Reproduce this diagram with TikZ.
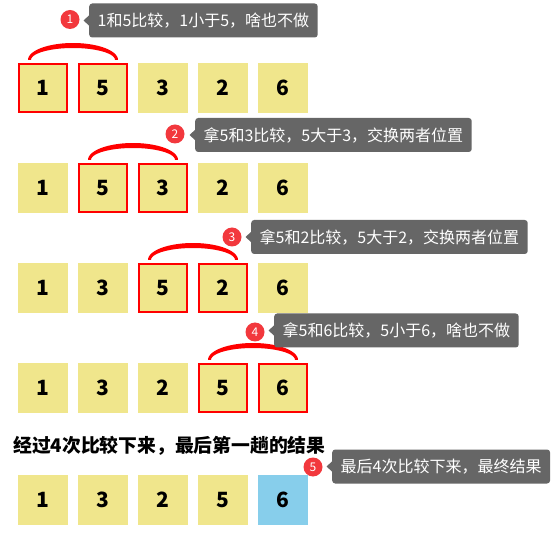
\documentclass[tikz,border=0pt]{standalone}
\usepackage{fontspec}
\setmainfont{Noto Sans CJK SC}
\usetikzlibrary{calc}
\definecolor{khakibox}{HTML}{F0E68C}
\definecolor{skybox}{HTML}{87CEEB}
\definecolor{tipgray}{HTML}{666666}
\definecolor{badgered}{HTML}{F2383D}
\newcommand\cmparc[2]{%
  \coordinate (m) at ($(#1.north)!0.5!(#2.north)$);
  \fill[red,shift={(m)}] plot[domain=180:0,samples=60] ({45*cos(\x)},{-3-17*sin(\x)})
     -- plot[domain=0:180,samples=60] ({42*cos(\x)},{-3-12*sin(\x)}) -- cycle;}
\newcommand\tipptr[1]{\fill[tipgray] (#1.west) ++(0.5,-5.5) -- ++(-6,5.5) -- ++(6,5.5) -- cycle;}
\begin{document}
\begin{tikzpicture}[x=1pt,y=-1pt,
  cell/.style={rectangle, fill=khakibox, minimum width=50pt, minimum height=50pt, inner sep=0pt,
    font=\fontsize{21}{21}\selectfont\bfseries},
  hl/.style={draw=red, line width=2pt, minimum width=48pt, minimum height=48pt},
  done/.style={fill=skybox},
  tip/.style={rectangle, rounded corners=3pt, fill=tipgray, text=white, anchor=west,
    minimum height=34pt, inner xsep=8.5pt, inner ysep=0pt, font=\fontsize{16}{16}\selectfont},
  badge/.style={circle, fill=badgered, text=white, minimum size=19pt, inner sep=0pt,
    font=\fontsize{12}{12}\selectfont},
  heading/.style={anchor=west, inner sep=0pt, font=\fontsize{18.8}{18.8}\selectfont\bfseries}]
\useasboundingbox (0,0) rectangle (554,534);
% row 1
\node[cell,hl] (r1c1) at (43,88) {1};
\node[cell,hl] (r1c2) at (103,88) {5};
\node[cell] (r1c3) at (163,88) {3};
\node[cell] (r1c4) at (223,88) {2};
\node[cell] (r1c5) at (283,88) {6};
\cmparc{r1c1}{r1c2}
% row 2
\node[cell] (r2c1) at (43,188) {1};
\node[cell,hl] (r2c2) at (103,188) {5};
\node[cell,hl] (r2c3) at (163,188) {3};
\node[cell] (r2c4) at (223,188) {2};
\node[cell] (r2c5) at (283,188) {6};
\cmparc{r2c2}{r2c3}
% row 3
\node[cell] (r3c1) at (43,288) {1};
\node[cell] (r3c2) at (103,288) {3};
\node[cell,hl] (r3c3) at (163,288) {5};
\node[cell,hl] (r3c4) at (223,288) {2};
\node[cell] (r3c5) at (283,288) {6};
\cmparc{r3c3}{r3c4}
% row 4
\node[cell] (r4c1) at (43,388) {1};
\node[cell] (r4c2) at (103,388) {3};
\node[cell] (r4c3) at (163,388) {2};
\node[cell,hl] (r4c4) at (223,388) {5};
\node[cell,hl] (r4c5) at (283,388) {6};
\cmparc{r4c4}{r4c5}
% heading
\node[heading] (head) at (13,446) {经过4次比较下来，最后第一趟的结果};
% row 5
\node[cell] (r5c1) at (43,500) {1};
\node[cell] (r5c2) at (103,500) {3};
\node[cell] (r5c3) at (163,500) {2};
\node[cell] (r5c4) at (223,500) {5};
\node[cell,done] (r5c5) at (283,500) {6};
% callouts
\node[tip] (t1) at (89,20.5) {1和5比较，1小于5，啥也不做};
\tipptr{t1}
\node[badge] (b1) at (70,19.5) {1};
\node[tip] (t2) at (195,135) {拿5和3比较，5大于3，交换两者位置};
\tipptr{t2}
\node[badge] (b2) at (175,134) {2};
\node[tip] (t3) at (251,237) {拿5和2比较，5大于2，交换两者位置};
\tipptr{t3}
\node[badge] (b3) at (232,237) {3};
\node[tip] (t4) at (274,330.5) {拿5和6比较，5小于6，啥也不做};
\tipptr{t4}
\node[badge] (b4) at (255,332) {4};
\node[tip] (t5) at (332,466.5) {最后4次比较下来，最终结果};
\tipptr{t5}
\node[badge] (b5) at (313,467) {5};
\end{tikzpicture}
\end{document}
